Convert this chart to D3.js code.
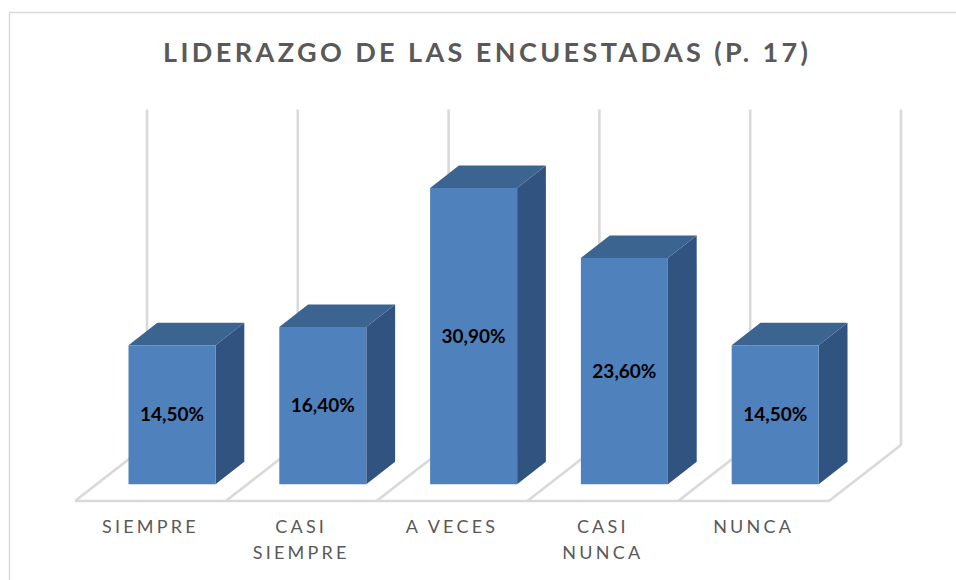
<!DOCTYPE html>
<html>
<head>
<meta charset="utf-8">
<script src="https://cdn.jsdelivr.net/npm/d3@7"></script>
<style>
  html, body { margin: 0; padding: 0; background: #fff; }
  svg { display: block; }
</style>
</head>
<body>
<svg id="chart" width="956" height="580"></svg>
<script>
// ---- Data ----
const title = "LIDERAZGO DE LAS ENCUESTADAS (P. 17)";
const categories = ["SIEMPRE", "CASI SIEMPRE", "A VECES", "CASI NUNCA", "NUNCA"];
const categoryLines = [["SIEMPRE"], ["CASI", "SIEMPRE"], ["A VECES"], ["CASI", "NUNCA"], ["NUNCA"]];
const values = [14.5, 16.4, 30.9, 23.6, 14.5];
const yDomain = [0, 35];

// ---- Layout ----
const W = 956, H = 580;
const floorLeft = 75, floorRight = 829, floorFrontY = 501;
const depthDx = 72, depthDy = 56;       // full floor depth (oblique projection)
const barDepth0 = 0.3, barDepth1 = 0.7;  // bar occupies middle of depth
const wallHeight = 335.6;

const svg = d3.select("#chart");

const esLocale = d3.formatLocale({ decimal: ",", thousands: ".", grouping: [3], currency: ["", "€"] });
const fmt = v => esLocale.format(".2f")(v) + "%";

const xGrid = d3.scaleBand().domain(categories).range([floorLeft, floorRight]).padding(0);
const xBar = d3.scaleBand().domain(categories).range([floorLeft, floorRight])
  .paddingInner(0.423).paddingOuter(0.2115);
const h = d3.scaleLinear().domain(yDomain).range([0, wallHeight]);

// projection: x at front edge, depth fraction d, height px hp
const P = (x, d, hp) => [x + d * depthDx, floorFrontY - d * depthDy - hp];

// Border
svg.append("rect").attr("x", 9.5).attr("y", 12.5).attr("width", 1200).attr("height", 1200)
  .attr("fill", "#fff").attr("stroke", "#d9d9d9").attr("stroke-width", 1.5);

// Title
const titleText = svg.append("text")
  .attr("y", 62)
  .attr("font-family", "Lato, 'Open Sans', sans-serif")
  .attr("font-weight", "bold")
  .attr("font-size", 27)
  .attr("fill", "#595959")
  .text(title);
{
  const target = 645;
  const w0 = titleText.node().getComputedTextLength();
  const n = title.length;
  const ls = (target - w0) / (n - 1);
  titleText.attr("letter-spacing", ls).attr("x", 485.5 - target / 2);
}

// Grid: back wall verticals + floor diagonals + front edge
const boundaries = categories.map(c => xGrid(c)).concat([floorRight]);
const lineGen = d3.line();
const grid = svg.append("g").attr("stroke", "#d9d9d9").attr("stroke-width", 2.6).attr("fill", "none");
boundaries.forEach(b => {
  grid.append("path").attr("d", lineGen([P(b, 1, 0), P(b, 1, h(yDomain[1]))]));
  grid.append("path").attr("d", lineGen([P(b, 0, 0), P(b, 1, 0)]));
});
grid.append("path").attr("d", lineGen([P(floorLeft, 0, 0), P(floorRight, 0, 0)]));

// Bars
const bars = svg.append("g");
const data = categories.map((c, i) => ({ c, v: values[i] }));
const bw = xBar.bandwidth();
data.forEach(d => {
  const x0 = xBar(d.c), x1 = x0 + bw, hp = h(d.v);
  const fBL = P(x0, barDepth0, 0), fBR = P(x1, barDepth0, 0);
  const fTL = P(x0, barDepth0, hp), fTR = P(x1, barDepth0, hp);
  const bTL = P(x0, barDepth1, hp), bTR = P(x1, barDepth1, hp), bBR = P(x1, barDepth1, 0);
  // side
  bars.append("path").attr("d", lineGen([fTR, bTR, bBR, fBR]) + "Z").attr("fill", "#31537f");
  // top
  bars.append("path").attr("d", lineGen([fTL, fTR, bTR, bTL]) + "Z").attr("fill", "#3c6490");
  // front
  bars.append("path").attr("d", lineGen([fBL, fBR, fTR, fTL]) + "Z").attr("fill", "#4f81bd");
  // value label
  bars.append("text")
    .attr("x", (fBL[0] + fBR[0]) / 2)
    .attr("y", (fBL[1] + fTL[1]) / 2)
    .attr("dy", "0.35em")
    .attr("text-anchor", "middle")
    .attr("font-family", "Lato, 'Open Sans', sans-serif")
    .attr("font-weight", "bold")
    .attr("font-size", 19)
    .attr("fill", "#000")
    .text(fmt(d.v));
});

// Category labels
const labels = svg.append("g")
  .attr("font-family", "Lato, 'Open Sans', sans-serif")
  .attr("font-size", 18)
  .attr("fill", "#595959")
  .attr("letter-spacing", 3.2)
  .attr("text-anchor", "middle");
categories.forEach((c, i) => {
  const cx = xGrid(c) + xGrid.bandwidth() / 2;
  const t = labels.append("text").attr("x", cx).attr("y", 533);
  categoryLines[i].forEach((line, j) => {
    t.append("tspan").attr("x", cx).attr("dy", j === 0 ? 0 : 26).text(line);
  });
});
</script>
</body>
</html>
